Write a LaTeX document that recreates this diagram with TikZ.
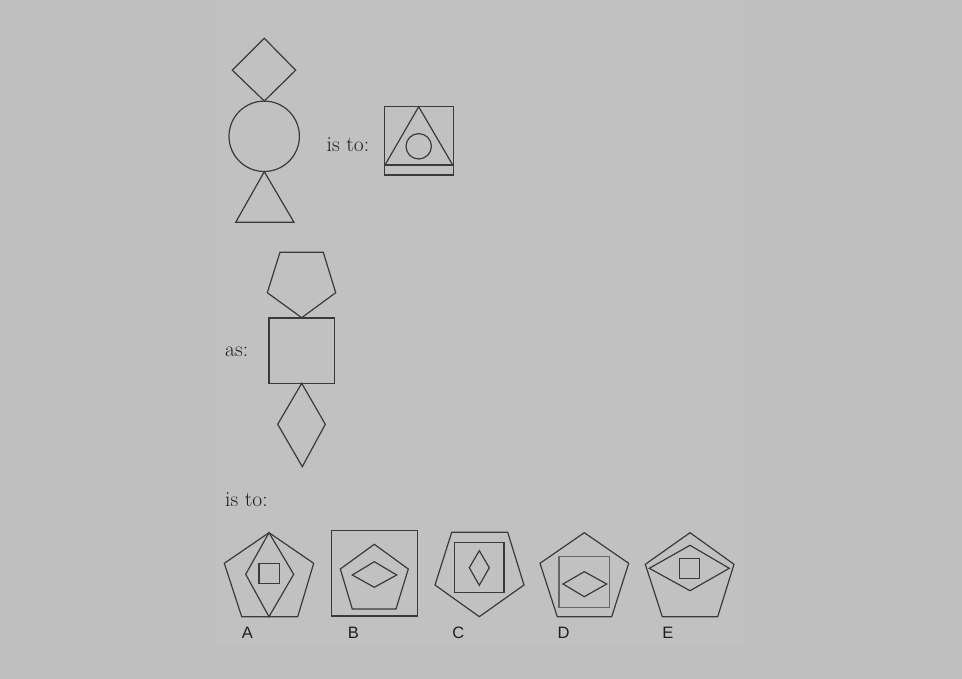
\documentclass[tikz,border=0pt]{standalone}
\usepackage{fontspec}
\newfontfamily\labfont{Liberation Sans}
\begin{document}
\begin{tikzpicture}[x=1pt,y=-1pt,
  shp/.style={draw=linegray,line width=1.2pt,line join=miter},
  lite/.style={draw=litegray,line width=1.2pt},
  txt/.style={anchor=base west,inner sep=0pt,font=\fontsize{21.5}{22}\selectfont,text=textgray},
  lab/.style={anchor=base,inner sep=0pt,font=\labfont\fontsize{16.5}{16.5}\selectfont,text=textgray}]
\definecolor{bgout}{HTML}{BFBFBF}
\definecolor{bgin}{HTML}{C1C1C1}
\definecolor{linegray}{HTML}{3A3A3A}
\definecolor{litegray}{HTML}{666666}
\definecolor{textgray}{HTML}{1E1E1E}
\fill[bgout] (0,0) rectangle (962,679);
\fill[bgin] (216,0) rectangle (745,645);
\useasboundingbox (0,0) rectangle (962,679);
% top figure
\draw[shp] (264.3,38.3) -- (295.7,70.2) -- (264.3,101) -- (232.3,70.2) -- cycle;
\draw[shp] (264.2,136.3) circle (35.2);
\draw[shp] (264.3,171.7) -- (294,222.3) -- (235.7,222.3) -- cycle;
\node[txt] (isto1) at (326.5,151.7) {is to:};
\draw[shp] (384.3,106.7) rectangle (453.3,175);
\draw[shp] (384.3,165) -- (453.3,165);
\draw[shp] (418.7,106.7) -- (452.7,165) -- (385,165) -- cycle;
\draw[shp] (418.7,146.3) circle (12.7);
% second figure
\draw[shp] (280,252.3) -- (323.3,252.3) -- (335.7,292.7) -- (301.7,317.7) -- (267.3,292.7) -- cycle;
\draw[shp] (269,318) rectangle (334.3,383.3);
\draw[shp] (301.7,383.3) -- (325.3,424.3) -- (302.3,466.7) -- (277.7,424.3) -- cycle;
\node[txt] (as) at (225,356.7) {as:};
\node[txt] (isto2) at (225,506.7) {is to:};
% A
\draw[shp] (269,532.7) -- (313.7,563.3) -- (297.7,616.7) -- (241.7,616.7) -- (224.3,563.3) -- cycle;
\draw[shp] (269,532.7) -- (293.7,574.3) -- (269,616.7) -- (245.7,574.3) -- cycle;
\draw[shp] (259,563.3) rectangle (279.3,583.7);
\node[lab] (A) at (247.5,638.3) {A};
% B
\draw[shp] (331.3,530.7) rectangle (417.3,616);
\draw[shp] (374.3,544.3) -- (408.3,569) -- (396,609) -- (352.3,609) -- (340.3,569) -- cycle;
\draw[shp] (374.3,561.7) -- (396.7,575) -- (374.3,587.3) -- (352.3,575) -- cycle;
\node[lab] (B) at (353.3,638.3) {B};
% C
\draw[shp] (451.7,532.3) -- (507.7,532.3) -- (524,585) -- (479.3,616.7) -- (435,585) -- cycle;
\draw[shp] (454.3,542.7) rectangle (504,592.3);
\draw[shp] (479.3,550.7) -- (489.3,567.7) -- (479.3,585.3) -- (469.3,567.7) -- cycle;
\node[lab] (C) at (458.3,638.3) {C};
% D
\draw[shp] (584.3,532.7) -- (628.7,563.3) -- (611.7,616.7) -- (557.3,616.7) -- (540,563.3) -- cycle;
\draw[lite] (559,556.7) rectangle (609.3,607.7);
\draw[shp] (584.3,571.7) -- (606.7,584) -- (584.3,596.7) -- (563,584) -- cycle;
\node[lab] (D) at (563.7,638.3) {D};
% E
\draw[shp] (690,532.7) -- (734,564.3) -- (717.7,616.7) -- (662.3,616.7) -- (645.3,564.3) -- cycle;
\draw[shp] (690,545.3) -- (729.3,568.3) -- (690,590.7) -- (649.3,568.3) -- cycle;
\draw[shp] (679.3,558.3) rectangle (699.3,578.3);
\node[lab] (E) at (667.8,638.3) {E};
\end{tikzpicture}
\end{document}
